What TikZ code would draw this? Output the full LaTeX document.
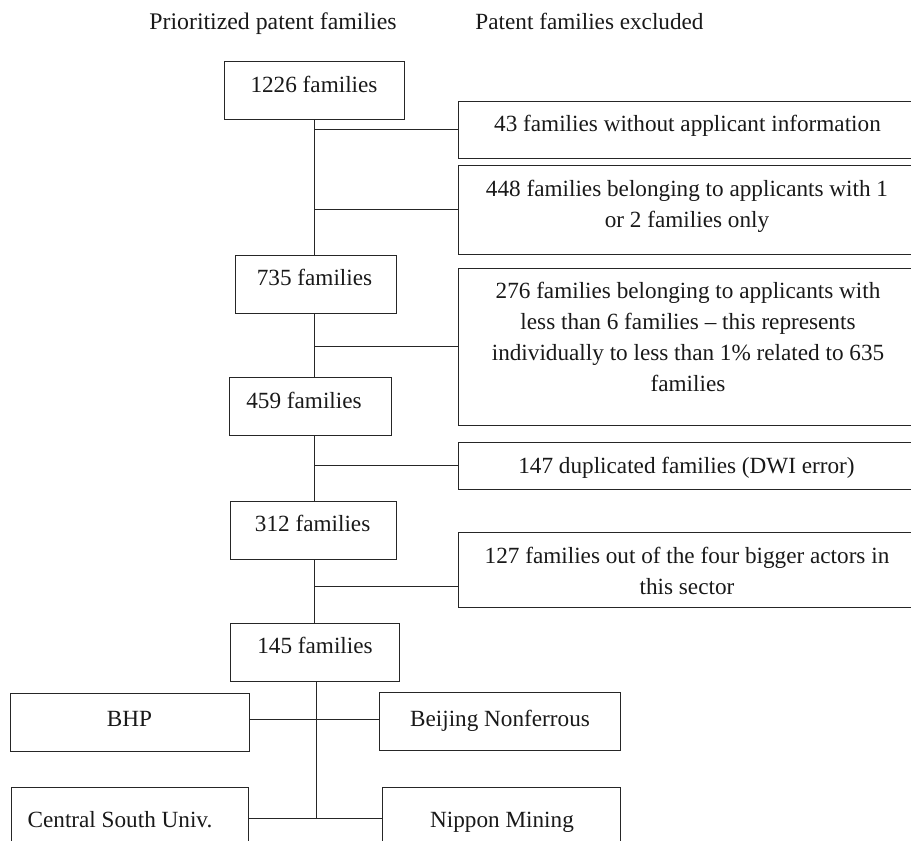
\documentclass[tikz,border=0pt]{standalone}
\usepackage{fontspec}
\setmainfont{Liberation Serif}
\begin{document}
\begin{tikzpicture}[x=1pt,y=-1pt,
  box/.style={draw=black!85, line width=1pt, inner sep=0pt, rectangle},
  txt/.style={font=\fontsize{23.2}{31}\selectfont, inner sep=0pt, anchor=base, align=center, text=black!90},
  conn/.style={draw=black!85, line width=1pt}]
\clip (0,0) rectangle (911,841);
\fill[white] (0,0) rectangle (911,841);
% left column boxes
\node[box, minimum width=180pt, minimum height=58pt] (b1226) at (314,90) {};
\node[box, minimum width=161pt, minimum height=58pt] (b735) at (315.5,284) {};
\node[box, minimum width=162pt, minimum height=58pt] (b459) at (310,406) {};
\node[box, minimum width=166pt, minimum height=58pt] (b312) at (313,530) {};
\node[box, minimum width=169pt, minimum height=58pt] (b145) at (314.5,652) {};
% right column boxes
\node[box, minimum width=458pt, minimum height=57pt] (b43) at (687.5,129.5) {};
\node[box, minimum width=458pt, minimum height=89pt] (b448) at (687.5,209.5) {};
\node[box, minimum width=458pt, minimum height=157pt] (b276) at (687.5,346.5) {};
\node[box, minimum width=458pt, minimum height=47pt] (b147) at (687.5,465.5) {};
\node[box, minimum width=458pt, minimum height=75pt] (b127) at (687.5,569.5) {};
% bottom boxes
\node[box, minimum width=239pt, minimum height=58pt] (bBHP) at (129.5,722) {};
\node[box, minimum width=241pt, minimum height=58pt] (bBei) at (499.5,721) {};
\node[box, minimum width=237pt, minimum height=58pt] (bCSU) at (129.5,816) {};
\node[box, minimum width=238pt, minimum height=58pt] (bNip) at (501,816) {};
% texts
\node[txt, font=\fontsize{23.8}{31}\selectfont] (h1) at (273,29) {Prioritized patent families};
\node[txt] (h2) at (589.5,29) {Patent families excluded};
\node[txt] (t1226) at (314,92) {1226 families};
\node[txt] (t735) at (314.5,285) {735 families};
\node[txt] (t459) at (304,408) {459 families};
\node[txt] (t312) at (312.6,531) {312 families};
\node[txt] (t145) at (315,653) {145 families};
\node[txt] (t43) at (687.5,131) {43 families without applicant information};
\node[txt] (t448) at (687,227) {448 families belonging to applicants with 1\\or 2 families only};
\node[txt] (t276) at (688,391) {276 families belonging to applicants with\\less than 6 families \textendash{} this represents\\individually to less than 1\% related to 635\\families};
\node[txt] (t147) at (686.5,473) {147 duplicated families (DWI error)};
\node[txt] (t127) at (687,594) {127 families out of the four bigger actors in\\this sector};
\node[txt] (tBHP) at (129.5,726) {BHP};
\node[txt] (tBei) at (500,726) {Beijing Nonferrous};
\node[txt] (tCSU) at (120,827) {Central South Univ.};
\node[txt] (tNip) at (502,827) {Nippon Mining};
% trunk
\coordinate (t) at (314.5,0);
\draw[conn] (b1226.south -| t) -- (b735.north -| t);
\draw[conn] (b735.south -| t) -- (b459.north -| t);
\draw[conn] (b459.south -| t) -- (b312.north -| t);
\draw[conn] (b312.south -| t) -- (b145.north -| t);
\draw[conn] (b43.west) -- (b43.west -| t);
\draw[conn] (b448.west) -- (b448.west -| t);
\draw[conn] (b276.west) -- (b276.west -| t);
\draw[conn] (b147.west) -- (b147.west -| t);
\coordinate (c127) at (458.5,586);
\draw[conn] (c127) -- (c127 -| t);
% bottom branches
\coordinate (u) at (316,0);
\coordinate (j2) at (316,818);
\draw[conn] (b145.south -| u) -- (j2);
\draw[conn] ([yshift=3pt]bBHP.east) -- ([yshift=3pt]bBHP.east -| bBei.west);
\draw[conn] (bCSU.east |- j2) -- (bNip.west |- j2);
\end{tikzpicture}
\end{document}
